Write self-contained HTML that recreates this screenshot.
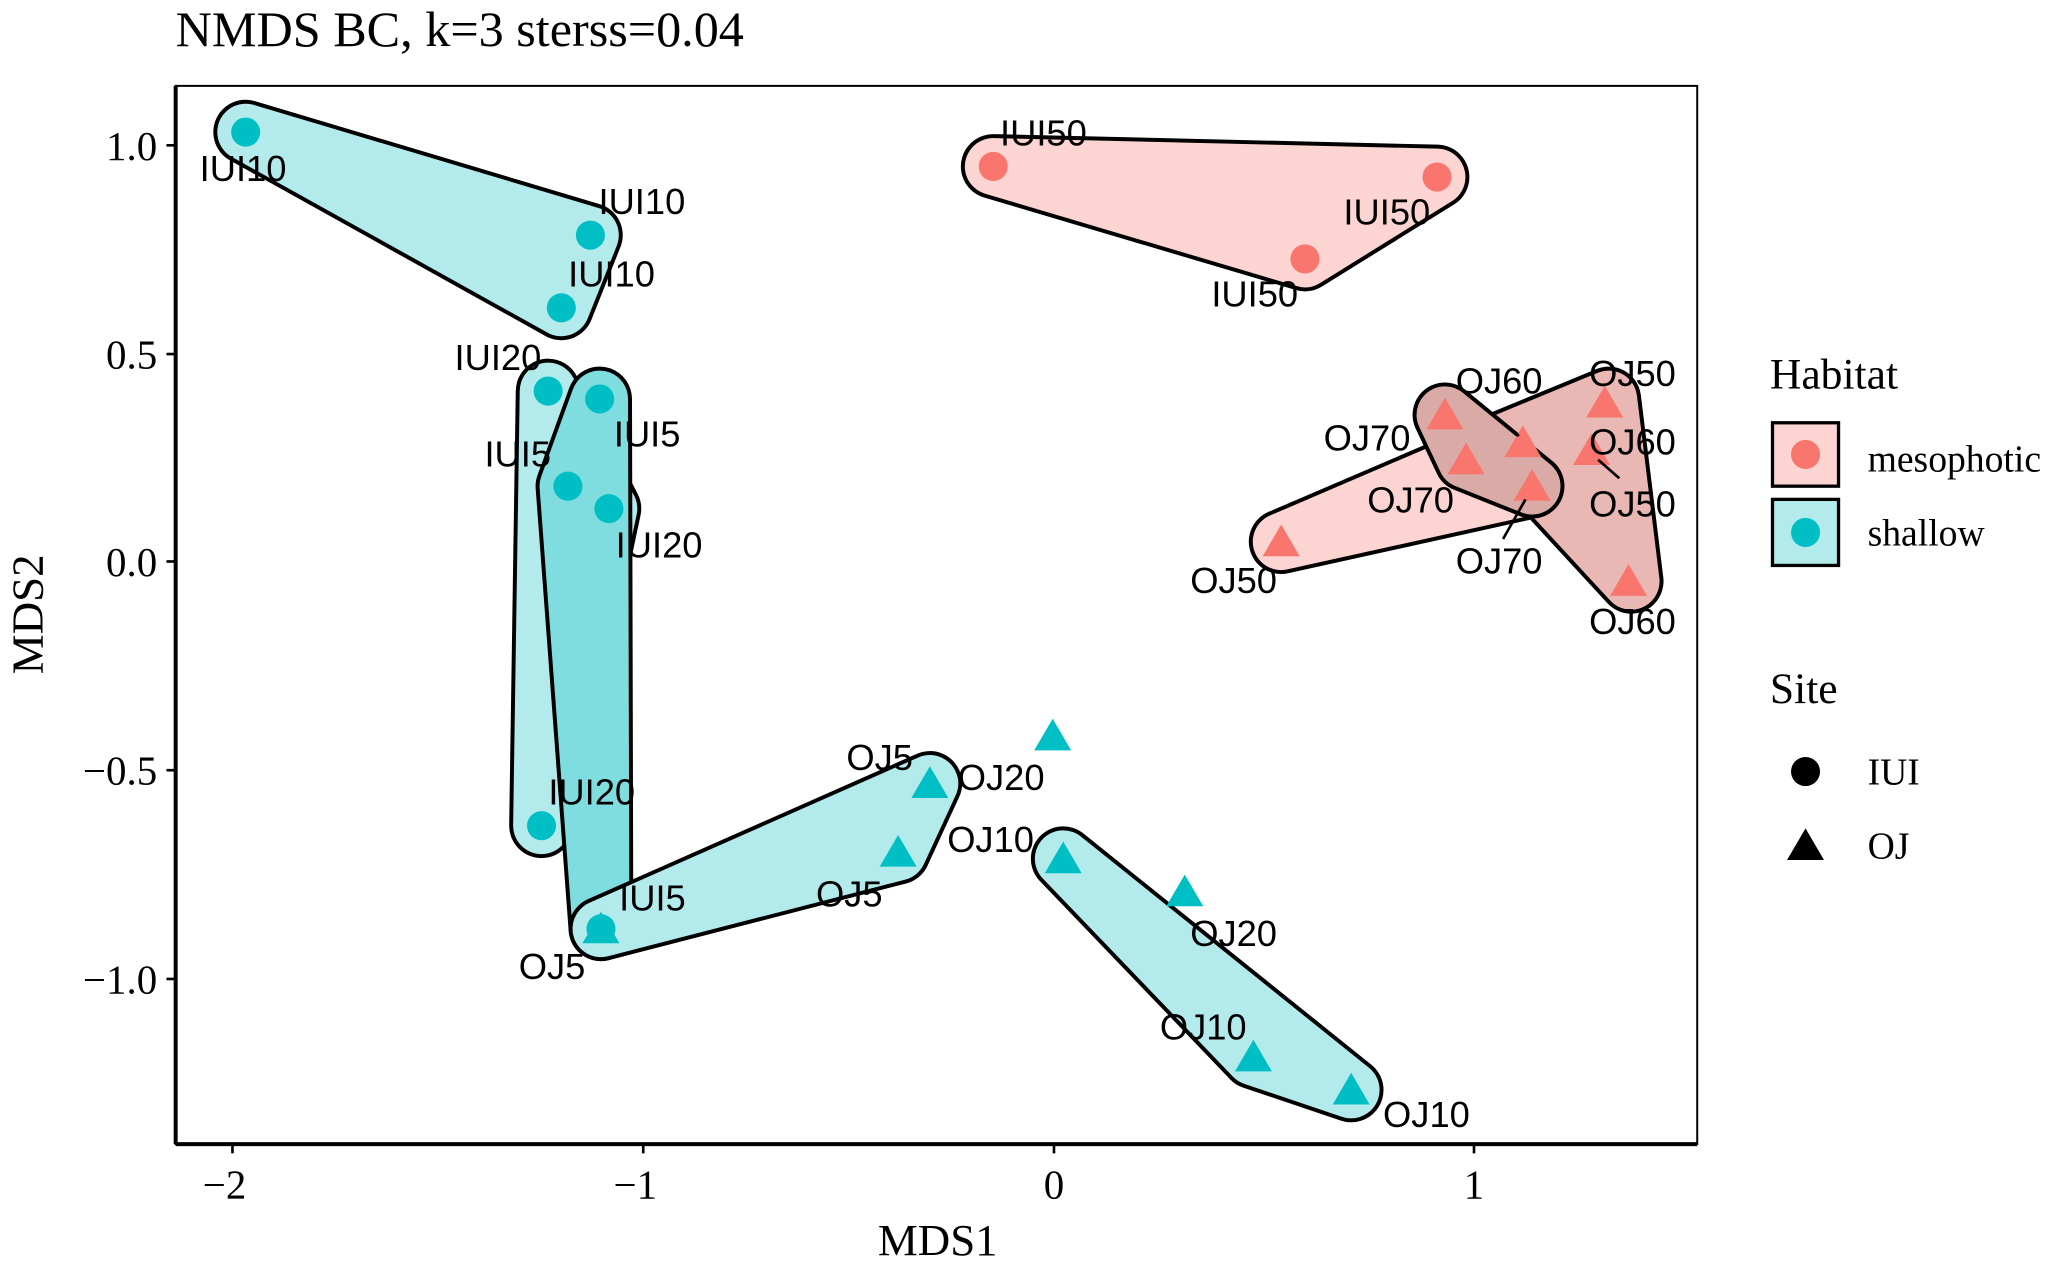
<!DOCTYPE html>
<html><head><meta charset="utf-8"><style>
html,body{margin:0;padding:0;background:#fff;}
svg{display:block;}
.t{font-family:"Liberation Serif",serif;fill:#000;}
.l{font-family:"Liberation Sans",sans-serif;font-size:27.5px;fill:#000;text-anchor:middle;}
</style></head><body>
<svg width="2071" height="1263" viewBox="0 0 1568 956" preserveAspectRatio="none" xmlns="http://www.w3.org/2000/svg">
<rect width="1568" height="956" fill="#fff"/>
<text class="t" x="133" y="35" font-size="38">NMDS BC, k=3 sterss=0.04</text>
<rect x="133" y="65" width="1152" height="801" fill="none" stroke="#000" stroke-width="1.5"/>
<line x1="133" y1="65" x2="133" y2="866" stroke="#000" stroke-width="3"/>
<line x1="133" y1="866" x2="1285" y2="866" stroke="#000" stroke-width="3"/>
<g stroke="#000" stroke-width="2">
<line x1="176" y1="866" x2="176" y2="873"/><line x1="487" y1="866" x2="487" y2="873"/><line x1="798" y1="866" x2="798" y2="873"/><line x1="1116" y1="866" x2="1116" y2="873"/>
<line x1="126" y1="110" x2="133" y2="110"/><line x1="126" y1="268" x2="133" y2="268"/><line x1="126" y1="425" x2="133" y2="425"/><line x1="126" y1="583" x2="133" y2="583"/><line x1="126" y1="741" x2="133" y2="741"/>
</g>
<g class="t" font-size="31" text-anchor="middle">
<text x="170" y="907">−2</text><text x="481" y="907">−1</text><text x="798" y="907">0</text><text x="1116" y="907">1</text>
<text x="710" y="950" font-size="34">MDS1</text>
</g>
<g class="t" font-size="31" text-anchor="end">
<text x="119" y="121">1.0</text><text x="119" y="279">0.5</text><text x="119" y="436">0.0</text><text x="119" y="594">−0.5</text><text x="119" y="752">−1.0</text>
</g>
<text class="t" font-size="34" transform="translate(32,465) rotate(-90)" text-anchor="middle">MDS2</text>

<g stroke-linejoin="round">
<polygon points="186,100 447,178 425,233" fill="#000" stroke="#000" stroke-width="49"/>
<polygon points="186,100 447,178 425,233" fill="#b3ebed" stroke="#b3ebed" stroke-width="43"/>
<polygon points="752,126 1088,134 988,196" fill="#000" stroke="#000" stroke-width="49"/>
<polygon points="752,126 1088,134 988,196" fill="#fcd4d1" stroke="#fcd4d1" stroke-width="43"/>
<polygon points="415,296 461,385 410,625" fill="#000" stroke="#000" stroke-width="49"/>
<polygon points="415,296 461,385 410,625" fill="#b3ebed" stroke="#b3ebed" stroke-width="43"/>
<polygon points="454,302 455,703 430,368" fill="#000" stroke="#000" stroke-width="49"/>
<polygon points="454,302 455,703 430,368" fill="#7fdcdf" stroke="#7fdcdf" stroke-width="43"/>
<polygon points="455,703 704,593 680,645" fill="#000" stroke="#000" stroke-width="49"/>
<polygon points="455,703 704,593 680,645" fill="#b3ebed" stroke="#b3ebed" stroke-width="43"/>
<polygon points="805,650 1023,825 949,800" fill="#000" stroke="#000" stroke-width="49"/>
<polygon points="805,650 1023,825 949,800" fill="#b3ebed" stroke="#b3ebed" stroke-width="43"/>
<polygon points="970,410 1215,305 1160,368" fill="#000" stroke="#000" stroke-width="49"/>
<polygon points="970,410 1215,305 1160,368" fill="#fcd4d1" stroke="#fcd4d1" stroke-width="43"/>
<polygon points="1138,335 1218,302 1235,440" fill="#000" stroke="#000" stroke-width="49"/>
<polygon points="1138,335 1218,302 1235,440" fill="#e9b8b4" stroke="#e9b8b4" stroke-width="43"/>
<polygon points="1094,314 1160,368 1110,348" fill="#000" stroke="#000" stroke-width="49"/>
<polygon points="1094,314 1160,368 1110,348" fill="#d9aaa6" stroke="#d9aaa6" stroke-width="43"/>
</g>

<g fill="#00BFC4">
<circle cx="186" cy="100" r="11"/><circle cx="447" cy="178" r="11"/><circle cx="425" cy="233" r="11"/>
<circle cx="415" cy="296" r="11"/><circle cx="454" cy="302" r="11"/><circle cx="430" cy="368" r="11"/>
<circle cx="461" cy="385" r="11"/><circle cx="410" cy="625" r="11"/><circle cx="455" cy="703" r="11"/>
<polygon points="455,690 469,714 441,714"/><polygon points="704,580 718,604 690,604"/><polygon points="680,632 694,656 666,656"/>
<polygon points="797,544 811,568 783,568"/><polygon points="805,637 819,661 791,661"/><polygon points="897,662 911,686 883,686"/>
<polygon points="949,787 963,811 935,811"/><polygon points="1023,812 1037,836 1009,836"/>
</g>
<g fill="#F8766D">
<circle cx="752" cy="126" r="11"/><circle cx="1088" cy="134" r="11"/><circle cx="988" cy="196" r="11"/>
<polygon points="970,397 984,421 956,421"/><polygon points="1094,301 1108,325 1080,325"/><polygon points="1110,335 1124,359 1096,359"/>
<polygon points="1153,322 1167,346 1139,346"/><polygon points="1160,355 1174,379 1146,379"/><polygon points="1215,292 1229,316 1201,316"/>
<polygon points="1205,328 1219,352 1191,352"/><polygon points="1233,427 1247,451 1219,451"/>
</g>
<g stroke="#000" stroke-width="2">
<line x1="1133" y1="316" x2="1150" y2="330"/><line x1="1138" y1="408" x2="1155" y2="378"/><line x1="1210" y1="348" x2="1226" y2="362"/>
</g>

<g class="l">
<text x="184" y="137">IUI10</text><text x="486" y="162">IUI10</text><text x="463" y="217">IUI10</text>
<text x="377" y="280">IUI20</text><text x="392" y="353">IUI5</text><text x="490" y="338">IUI5</text>
<text x="499" y="422">IUI20</text><text x="448" y="609">IUI20</text><text x="494" y="689">IUI5</text>
<text x="418" y="741">OJ5</text><text x="666" y="583">OJ5</text><text x="758" y="598">OJ20</text>
<text x="750" y="645">OJ10</text><text x="643" y="686">OJ5</text><text x="934" y="716">OJ20</text>
<text x="911" y="787">OJ10</text><text x="1080" y="853">OJ10</text>
<text x="790" y="110">IUI50</text><text x="1050" y="170">IUI50</text><text x="950" y="232">IUI50</text>
<text x="1135" y="298">OJ60</text><text x="1236" y="292">OJ50</text><text x="1035" y="341">OJ70</text>
<text x="1236" y="344">OJ60</text><text x="1068" y="388">OJ70</text><text x="1236" y="391">OJ50</text>
<text x="1135" y="434">OJ70</text><text x="934" y="449">OJ50</text><text x="1236" y="480">OJ60</text>
</g>

<g class="t">
<text x="1340" y="294" font-size="33">Habitat</text>
<rect x="1342" y="320" width="50" height="48" fill="#fcd4d1" stroke="#000" stroke-width="2.5"/>
<circle cx="1367" cy="344" r="11" fill="#F8766D"/>
<rect x="1342" y="378" width="50" height="50" fill="#b3ebed" stroke="#000" stroke-width="2.5"/>
<circle cx="1367" cy="403" r="11" fill="#00BFC4"/>
<text x="1414" y="357" font-size="28.5">mesophotic</text>
<text x="1414" y="413" font-size="28.5">shallow</text>
<text x="1340" y="532" font-size="33">Site</text>
<circle cx="1367" cy="584" r="11" fill="#000"/>
<polygon points="1367,627 1381,651 1353,651" fill="#000"/>
<text x="1414" y="594" font-size="28.5">IUI</text>
<text x="1414" y="650" font-size="28.5">OJ</text>
</g>
</svg>
</body></html>
